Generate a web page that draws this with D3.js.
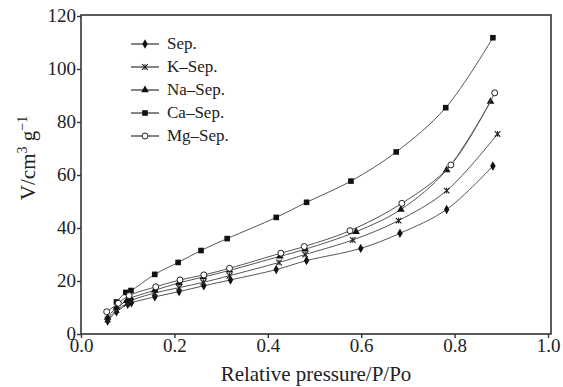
<!DOCTYPE html>
<html>
<head>
<meta charset="utf-8">
<script src="https://cdn.jsdelivr.net/npm/d3@7"></script>
<style>
  body { margin: 0; background: #fff; }
</style>
</head>
<body>
<script>
// Data
var sepX = [0.057, 0.076, 0.100, 0.108, 0.158, 0.210, 0.263, 0.320, 0.418, 0.483, 0.599, 0.683, 0.783, 0.882];
var sepY = [4.9, 8.4, 11.2, 11.8, 14.0, 16.0, 18.2, 20.4, 24.3, 27.7, 32.3, 38.0, 47.0, 63.4];
var kX = [0.057, 0.076, 0.098, 0.106, 0.158, 0.210, 0.262, 0.318, 0.424, 0.480, 0.582, 0.680, 0.783, 0.892];
var kY = [5.5, 9.0, 11.5, 12.5, 15.5, 17.5, 19.5, 22.0, 27.0, 30.0, 35.5, 42.8, 54.1, 75.5];
var naX = [0.057, 0.076, 0.098, 0.106, 0.158, 0.210, 0.262, 0.318, 0.426, 0.480, 0.589, 0.685, 0.783, 0.877];
var naY = [6.2, 10.0, 12.5, 13.5, 16.5, 19.3, 21.5, 24.0, 29.3, 32.0, 38.6, 47.0, 61.9, 87.7];
var caX = [0.076, 0.096, 0.107, 0.158, 0.208, 0.257, 0.313, 0.418, 0.483, 0.578, 0.675, 0.781, 0.882];
var caY = [12.1, 15.7, 16.4, 22.5, 27.0, 31.5, 36.0, 44.0, 49.7, 57.7, 68.7, 85.4, 111.8];
var mgX = [0.055, 0.080, 0.103, 0.160, 0.212, 0.263, 0.318, 0.428, 0.478, 0.576, 0.687, 0.792, 0.886];
var mgY = [8.4, 11.6, 14.5, 17.8, 20.4, 22.3, 24.8, 30.5, 33.0, 39.0, 49.3, 63.8, 91.0];

var names = ["Sep.", "K\u2013Sep.", "Na\u2013Sep.", "Ca\u2013Sep.", "Mg\u2013Sep."];
var xTicks = [0, 0.2, 0.4, 0.6, 0.8, 1.0];
var yTicks = [0, 20, 40, 60, 80, 100, 120];

var series = [
  { name: names[0], xs: sepX, ys: sepY, marker: "diamond" },
  { name: names[1], xs: kX, ys: kY, marker: "star" },
  { name: names[2], xs: naX, ys: naY, marker: "triangle" },
  { name: names[3], xs: caX, ys: caY, marker: "square" },
  { name: names[4], xs: mgX, ys: mgY, marker: "circle" }
];

var W = 563, H = 387;
var margin = { top: 15, right: 12, bottom: 53, left: 81 },
    width = W - margin.left - margin.right,
    height = H - margin.top - margin.bottom;

var serif = "Times New Roman, Liberation Serif, serif";

var x = d3.scaleLinear().domain([0, 1]).range([0, 467]);
var y = d3.scaleLinear().domain([0, 120]).range([height, height - 318]);

var svg = d3.select("body").append("svg")
    .attr("width", W)
    .attr("height", H)
    .attr("font-family", serif);

var g = svg.append("g")
    .attr("transform", `translate(${margin.left},${margin.top})`);

// frame
g.append("rect")
    .attr("x", 0).attr("y", 0)
    .attr("width", width).attr("height", height)
    .attr("fill", "none")
    .attr("stroke", "#333")
    .attr("stroke-width", 1.6);

// axes
var xAxis = g.append("g")
    .attr("transform", `translate(0,${height})`)
    .call(d3.axisBottom(x).tickValues(xTicks).tickFormat(d3.format(".1f")).tickSize(4).tickPadding(1));
var yAxis = g.append("g")
    .call(d3.axisLeft(y).tickValues(yTicks).tickSize(4).tickPadding(1));

[xAxis, yAxis].forEach(function (a) {
  a.attr("font-family", serif).attr("font-size", 19);
  a.select(".domain").remove();
  a.selectAll("line").attr("stroke", "#333").attr("stroke-width", 1.4);
  a.selectAll("text").attr("fill", "#222");
});
yAxis.selectAll("text").attr("dy", "0.3em");

// markers
function drawMarker(sel, type, size) {
  var s = size;
  if (type === "circle") {
    sel.append("circle").attr("r", s * 0.75)
        .attr("fill", "#fff").attr("stroke", "#222").attr("stroke-width", 1);
  } else if (type === "square") {
    sel.append("rect").attr("x", -s * 0.7).attr("y", -s * 0.7)
        .attr("width", s * 1.4).attr("height", s * 1.4).attr("fill", "#111");
  } else if (type === "diamond") {
    sel.append("path").attr("d", d3.symbol().type(d3.symbolDiamond).size(s * s * 1.6)())
        .attr("fill", "#111");
  } else if (type === "triangle") {
    sel.append("path").attr("d", d3.symbol().type(d3.symbolTriangle).size(s * s * 1.6)())
        .attr("fill", "#111");
  } else if (type === "star") {
    sel.append("path").attr("d", d3.symbol().type(d3.symbolX).size(s * s * 1.4)())
        .attr("fill", "none").attr("stroke", "#222").attr("stroke-width", 1.1);
    sel.append("line").attr("x1", 0).attr("x2", 0).attr("y1", -s * 0.7).attr("y2", s * 0.7)
        .attr("stroke", "#222").attr("stroke-width", 1.1);
  }
}

var line = d3.line()
    .x(d => x(d[0]))
    .y(d => y(d[1]))
    .curve(d3.curveCatmullRom.alpha(0.5));

series.forEach(function (s) {
  var pts = s.xs.map((v, i) => [v, s.ys[i]]);
  g.append("path")
      .datum(pts)
      .attr("fill", "none")
      .attr("stroke", "#555")
      .attr("stroke-width", 1)
      .attr("d", line);
  g.selectAll(null)
      .data(pts)
      .enter().append("g")
      .attr("transform", d => `translate(${x(d[0])},${y(d[1])})`)
      .each(function () { drawMarker(d3.select(this), s.marker, 4); });
});

// legend
var legend = g.append("g").attr("transform", "translate(50,29)");
series.forEach(function (s, i) {
  var row = legend.append("g").attr("transform", `translate(0,${i * 23})`);
  row.append("line").attr("x1", 0).attr("x2", 28).attr("y1", 0).attr("y2", 0)
      .attr("stroke", "#333").attr("stroke-width", 1.2);
  var m = row.append("g").attr("transform", "translate(14,0)");
  drawMarker(m, s.marker, 4);
  row.append("text")
      .attr("x", 36).attr("y", 5)
      .attr("font-size", 17)
      .attr("fill", "#222")
      .text(s.name);
});

// axis titles
svg.append("text")
    .attr("x", margin.left + 235)
    .attr("y", H - 6)
    .attr("text-anchor", "middle")
    .attr("font-size", 21)
    .attr("fill", "#222")
    .text("Relative pressure/P/Po");

var yt = svg.append("text")
    .attr("transform", `translate(35,158) rotate(-90)`)
    .attr("text-anchor", "middle")
    .attr("font-size", 21)
    .attr("fill", "#222");
yt.append("tspan").text("V/cm");
yt.append("tspan").attr("dy", -8).attr("font-size", 14).text("3");
yt.append("tspan").attr("dy", 8).text(" g");
yt.append("tspan").attr("dy", -8).attr("font-size", 14).text("\u22121");
</script>
</body>
</html>
